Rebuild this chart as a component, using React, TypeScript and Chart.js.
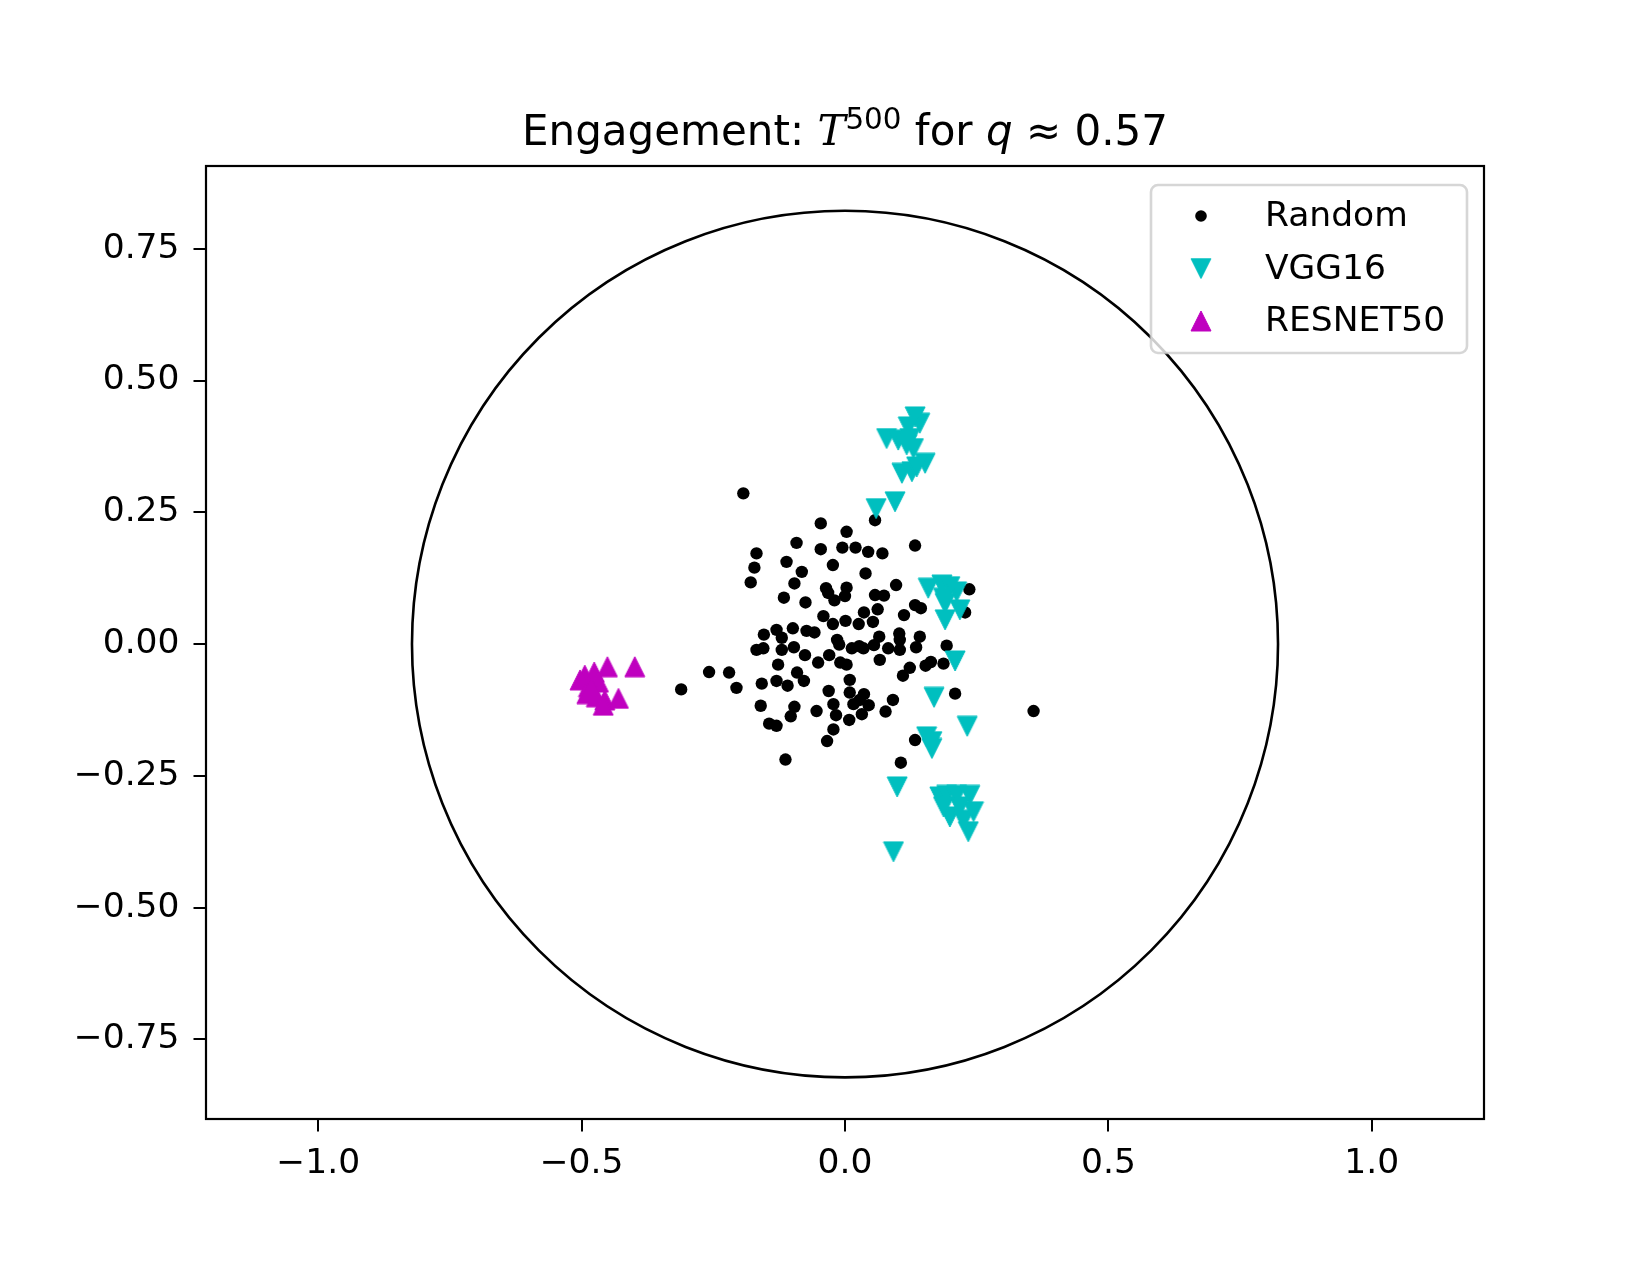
import React, { useEffect, useRef } from "react";
import { Chart, registerables } from "chart.js";

Chart.register(...registerables);

// ---------------- data ----------------
const RANDOM_X = [
  -0.193, -0.046, 0.003, 0.057, -0.092, -0.046, -0.005, 0.02, 0.044, 0.071,
  0.133, -0.168, -0.172, -0.179, -0.111, -0.082, -0.023, 0.039, -0.096, -0.116,
  -0.075, -0.036, -0.032, 0.003, 0.0, -0.02, 0.057, 0.074, 0.097, 0.236,
  0.228, 0.133, 0.144, 0.112, -0.041, -0.023, 0.001, 0.026, 0.036, 0.053,
  0.062, -0.13, -0.154, -0.12, -0.099, -0.073, -0.058, -0.015, -0.011, 0.013,
  0.027, 0.035, 0.055, 0.065, 0.082, 0.103, 0.104, 0.104, 0.142, 0.135,
  0.193, -0.168, -0.155, -0.12, -0.097, -0.076, -0.03, -0.009, 0.003, -0.051,
  -0.127, -0.258, -0.22, -0.206, -0.158, -0.13, -0.109, -0.091, -0.078, 0.066,
  0.11, 0.123, 0.153, 0.163, 0.187, 0.009, -0.031, 0.009, 0.036, 0.209,
  -0.16, -0.096, -0.103, -0.054, -0.022, 0.016, 0.028, 0.045, 0.032, -0.017,
  0.008, 0.077, 0.091, 0.358, -0.144, -0.13, -0.022, -0.034, 0.133, -0.113,
  0.106, -0.311,
];
const RANDOM_Y = [
  0.286, 0.229, 0.213, 0.235, 0.192, 0.18, 0.183, 0.183, 0.175, 0.172,
  0.187, 0.172, 0.145, 0.117, 0.156, 0.137, 0.15, 0.134, 0.115, 0.088,
  0.079, 0.106, 0.097, 0.107, 0.091, 0.083, 0.093, 0.092, 0.112, 0.104,
  0.06, 0.074, 0.068, 0.055, 0.053, 0.038, 0.044, 0.038, 0.06, 0.042,
  0.066, 0.027, 0.018, 0.012, 0.03, 0.025, 0.022, 0.008, -0.001, -0.008,
  -0.004, -0.008, -0.002, 0.014, -0.008, 0.02, 0.008, -0.011, 0.014, -0.006,
  -0.003, -0.011, -0.008, -0.011, -0.006, -0.021, -0.021, -0.035, -0.039, -0.035,
  -0.039, -0.053, -0.054, -0.083, -0.075, -0.07, -0.079, -0.054, -0.07, -0.03,
  -0.06, -0.045, -0.041, -0.034, -0.037, -0.068, -0.089, -0.092, -0.095, -0.094,
  -0.117, -0.119, -0.137, -0.127, -0.114, -0.114, -0.106, -0.116, -0.133, -0.135,
  -0.144, -0.128, -0.106, -0.127, -0.151, -0.155, -0.162, -0.184, -0.182, -0.219,
  -0.225, -0.086,
];

const VGG16_X = [
  0.133, 0.142, 0.12, 0.079, 0.101, 0.123, 0.13, 0.117, 0.152, 0.108,
  0.127, 0.136, 0.095, 0.059, 0.158, 0.184, 0.199, 0.212, 0.187, 0.19,
  0.218, 0.19, 0.209, 0.169, 0.232, 0.155, 0.165, 0.165, 0.099, 0.092,
  0.18, 0.193, 0.212, 0.237, 0.199, 0.218, 0.244, 0.234, 0.225, 0.187,
];
const VGG16_Y = [
  0.431, 0.419, 0.412, 0.39, 0.387, 0.39, 0.371, 0.378, 0.343, 0.324,
  0.327, 0.336, 0.27, 0.257, 0.106, 0.112, 0.109, 0.099, 0.087, 0.077,
  0.065, 0.046, -0.032, -0.101, -0.156, -0.176, -0.185, -0.198, -0.271, -0.394,
  -0.29, -0.287, -0.287, -0.287, -0.328, -0.309, -0.318, -0.356, -0.334, -0.309,
];

const RESNET50_X = [
  -0.399, -0.451, -0.476, -0.494, -0.503, -0.487, -0.468, -0.49, -0.472, -0.456,
  -0.43, -0.459, -0.481,
];
const RESNET50_Y = [
  -0.043, -0.043, -0.053, -0.059, -0.068, -0.081, -0.072, -0.094, -0.1, -0.106,
  -0.103, -0.116, -0.087,
];

const SERIES_NAMES = ["Random", "VGG16", "RESNET50"];
const X_TICKS = [-1.0, -0.5, 0.0, 0.5, 1.0];
const Y_TICKS = [-0.75, -0.5, -0.25, 0.0, 0.25, 0.5, 0.75];
const X_LIMITS = [-1.213, 1.213];
const Y_LIMITS = [-0.901, 0.907];
const CIRCLE_RADIUS = 0.822;

// title pieces: [text, style]
const TITLE_PARTS: [string, string][] = [
  ["Engagement: ", "normal"],
  ["T", "script"],
  ["500", "sup"],
  [" for ", "normal"],
  ["q", "italic"],
  [" \u2248 ", "normal"],
  ["0.57", "normal"],
];

// ---------------- styles ----------------
const FONT = "'DejaVu Sans', 'Liberation Sans', sans-serif";
const TICK_SIZE = 34.5;
const TITLE_SIZE = 42;
const CYAN = "#00bfbf";
const MAGENTA = "#bf00bf";

function zip(xs: number[], ys: number[]) {
  return xs.map((x, i) => ({ x, y: ys[i] }));
}

function fmt(v: number, d: number) {
  const s = Math.abs(v).toFixed(d);
  return v < -1e-9 ? "\u2212" + s : s;
}

function makeTriangle(color: string, down: boolean) {
  const c = document.createElement("canvas");
  c.width = 22;
  c.height = 22;
  const g = c.getContext("2d")!;
  g.fillStyle = color;
  g.strokeStyle = color;
  g.lineWidth = 1;
  g.lineJoin = "round";
  g.beginPath();
  if (down) {
    g.moveTo(1, 1);
    g.lineTo(21, 1);
    g.lineTo(11, 21);
  } else {
    g.moveTo(11, 1);
    g.lineTo(21, 21);
    g.lineTo(1, 21);
  }
  g.closePath();
  g.fill();
  g.stroke();
  return c;
}

export default function App() {
  const ref = useRef<HTMLCanvasElement | null>(null);

  useEffect(() => {
    if (!ref.current) return;
    const downTri = makeTriangle(CYAN, true);
    const upTri = makeTriangle(MAGENTA, false);

    const decorPlugin = {
      id: "decor",
      beforeDatasetsDraw(chart: any) {
        const { ctx, chartArea, scales } = chart;
        const xs = scales.x;
        const ys = scales.y;
        const cx = xs.getPixelForValue(0);
        const cy = ys.getPixelForValue(0);
        const rx = Math.abs(xs.getPixelForValue(CIRCLE_RADIUS) - cx);
        const ry = Math.abs(ys.getPixelForValue(CIRCLE_RADIUS) - cy);
        ctx.save();
        ctx.beginPath();
        ctx.rect(chartArea.left, chartArea.top, chartArea.right - chartArea.left, chartArea.bottom - chartArea.top);
        ctx.clip();
        ctx.beginPath();
        ctx.ellipse(cx, cy, rx, ry, 0, 0, Math.PI * 2);
        ctx.strokeStyle = "#000";
        ctx.lineWidth = 2.6;
        ctx.stroke();
        ctx.restore();
      },
      afterDraw(chart: any) {
        const { ctx, chartArea } = chart;
        ctx.save();
        // frame
        ctx.strokeStyle = "#000";
        ctx.lineWidth = 2.2;
        ctx.strokeRect(chartArea.left, chartArea.top, chartArea.right - chartArea.left, chartArea.bottom - chartArea.top);

        // title
        const pieces = TITLE_PARTS.map(([t, st]) => {
          let font = `${TITLE_SIZE}px ${FONT}`;
          let dy = 0;
          if (st === "script") font = `italic ${TITLE_SIZE}px 'DejaVu Serif', serif`;
          if (st === "italic") font = `oblique ${TITLE_SIZE}px ${FONT}`;
          if (st === "sup") {
            font = `${TITLE_SIZE * 0.7}px ${FONT}`;
            dy = -16;
          }
          ctx.font = font;
          return { t, font, dy, w: ctx.measureText(t).width };
        });
        const total = pieces.reduce((a, p) => a + p.w, 0);
        let tx = (chartArea.left + chartArea.right) / 2 - total / 2;
        const baseY = chartArea.top - 21;
        ctx.fillStyle = "#000";
        ctx.textBaseline = "alphabetic";
        ctx.textAlign = "left";
        for (const p of pieces) {
          ctx.font = p.font;
          ctx.fillText(p.t, tx, baseY + p.dy);
          tx += p.w;
        }

        // legend
        const lw = 316;
        const lh = 168;
        const lx = chartArea.right - 17 - lw;
        const ly = chartArea.top + 19;
        const r = 7;
        ctx.beginPath();
        ctx.moveTo(lx + r, ly);
        ctx.arcTo(lx + lw, ly, lx + lw, ly + lh, r);
        ctx.arcTo(lx + lw, ly + lh, lx, ly + lh, r);
        ctx.arcTo(lx, ly + lh, lx, ly, r);
        ctx.arcTo(lx, ly, lx + lw, ly, r);
        ctx.closePath();
        ctx.fillStyle = "rgba(255,255,255,0.8)";
        ctx.fill();
        ctx.strokeStyle = "rgba(204,204,204,0.8)";
        ctx.lineWidth = 2.6;
        ctx.stroke();

        const mx = lx + 50;
        const rows = [ly + 31, ly + 83.5, ly + 136];
        // markers
        ctx.fillStyle = "#000";
        ctx.beginPath();
        ctx.arc(mx, rows[0], 5.8, 0, Math.PI * 2);
        ctx.fill();
        ctx.drawImage(downTri, mx - 11, rows[1] - 11);
        ctx.drawImage(upTri, mx - 11, rows[2] - 11);
        ctx.font = `${TICK_SIZE}px ${FONT}`;
        ctx.fillStyle = "#000";
        SERIES_NAMES.forEach((n, i) => {
          ctx.fillText(n, lx + 114, rows[i] + 10);
        });
        ctx.restore();
      },
    };

    const chart = new Chart(ref.current, {
      type: "scatter",
      data: {
        datasets: [
          {
            label: SERIES_NAMES[0],
            data: zip(RANDOM_X, RANDOM_Y),
            pointStyle: "circle",
            pointRadius: 6.2,
            pointBorderWidth: 0,
            backgroundColor: "#000",
            borderColor: "#000",
            order: 3,
          },
          {
            label: SERIES_NAMES[1],
            data: zip(VGG16_X, VGG16_Y),
            pointStyle: downTri,
            pointRadius: 10,
            pointBorderWidth: 0,
            backgroundColor: CYAN,
            borderColor: CYAN,
            order: 2,
          },
          {
            label: SERIES_NAMES[2],
            data: zip(RESNET50_X, RESNET50_Y),
            pointStyle: upTri,
            pointRadius: 10,
            pointBorderWidth: 0,
            backgroundColor: MAGENTA,
            borderColor: MAGENTA,
            order: 1,
          },
        ],
      },
      options: {
        animation: false,
        responsive: false,
        maintainAspectRatio: false,
        layout: { padding: { top: 166, right: 166, left: 0, bottom: 0 } },
        plugins: {
          legend: { display: false },
          title: { display: false },
          tooltip: { enabled: false },
        },
        events: [],
        scales: {
          x: {
            type: "linear",
            min: X_LIMITS[0],
            max: X_LIMITS[1],
            afterBuildTicks: (s: any) => {
              s.ticks = X_TICKS.map((v) => ({ value: v }));
            },
            afterFit: (s: any) => {
              s.height = 156;
            },
            border: { display: false },
            grid: {
              drawOnChartArea: false,
              drawTicks: true,
              tickLength: 12.5,
              color: "#000",
              lineWidth: 2,
            },
            ticks: {
              autoSkip: false,
              maxRotation: 0,
              padding: 12,
              color: "#000",
              font: { family: FONT, size: TICK_SIZE },
              callback: (v: any) => fmt(Number(v), 1),
            },
          },
          y: {
            type: "linear",
            min: Y_LIMITS[0],
            max: Y_LIMITS[1],
            afterBuildTicks: (s: any) => {
              s.ticks = Y_TICKS.map((v) => ({ value: v }));
            },
            afterFit: (s: any) => {
              s.width = 206;
            },
            border: { display: false },
            grid: {
              drawOnChartArea: false,
              drawTicks: true,
              tickLength: 12.5,
              color: "#000",
              lineWidth: 2,
            },
            ticks: {
              autoSkip: false,
              padding: 14,
              color: "#000",
              font: { family: FONT, size: TICK_SIZE },
              callback: (v: any) => fmt(Number(v), 2),
            },
          },
        },
      },
      plugins: [decorPlugin],
    } as any);

    return () => chart.destroy();
  }, []);

  return (
    <div style={{ position: "fixed", left: 0, top: 0, width: 1650, height: 1275, background: "#fff" }}>
      <canvas ref={ref} width={1650} height={1275} style={{ width: 1650, height: 1275, display: "block" }} />
    </div>
  );
}
